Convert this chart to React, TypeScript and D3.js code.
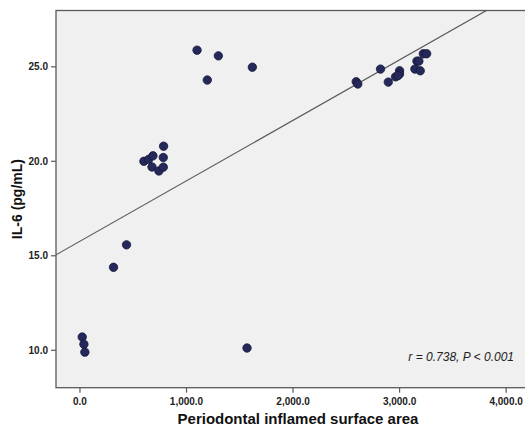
import React from "react";
import * as d3 from "d3";

const pisa = [21, 37, 46, 315, 437, 600, 644, 685, 676, 741, 782, 782, 785, 1099, 1299, 1195, 1618, 1568, 2593, 2608, 2821, 2894, 2962, 3000, 3000, 2984, 3144, 3194, 3163, 3181, 3223, 3254];
const il6 = [10.7, 10.32, 9.9, 14.39, 15.58, 20.0, 20.1, 20.29, 19.7, 19.49, 19.69, 20.2, 20.8, 25.88, 25.58, 24.3, 24.98, 10.12, 24.21, 24.09, 24.88, 24.19, 24.47, 24.79, 24.62, 24.53, 24.88, 24.79, 25.3, 25.3, 25.69, 25.69];
const xTicks = [0, 1000, 2000, 3000, 4000];
const yTicks = [10, 15, 20, 25];
const fitIntercept = 15.77;
const fitSlope = 0.0032;
const annotation = "r = 0.738, P < 0.001";
const xTitle = "Periodontal inflamed surface area";
const yTitle = "IL-6 (pg/mL)";

const W = 525, H = 430;
const L = 56, T = 10.5, R = 527, B = 387.7;

export default function App() {
  const x = d3.scaleLinear().domain([-225, 4196]).range([L, R]);
  const y = d3.scaleLinear().domain([8.02, 27.98]).range([B, T]);
  const fmt = d3.format(",.1f");
  const x0 = -225, x1 = 4196;
  const line = d3.line<number>().x((d) => x(d)).y((d) => y(fitIntercept + fitSlope * d));
  const font = "'Liberation Sans', Arial, Helvetica, sans-serif";
  return (
    <svg width={W} height={H} style={{ position: "absolute", left: 0, top: 0 }} fontFamily={font}>
      <rect x={0} y={0} width={W} height={H} fill="#ffffff" />
      <defs>
        <clipPath id="plot">
          <rect x={L} y={T} width={R - L} height={B - T} />
        </clipPath>
      </defs>
      <rect x={L} y={T} width={R - L} height={B - T} fill="#f0f0f0" stroke="#5a5a5a" strokeWidth={1.3} />
      <g clipPath="url(#plot)">
        <path d={line([x0, x1]) || ""} fill="none" stroke="#5a5a5a" strokeWidth={1.2} />
        {pisa.map((v, i) => (
          <circle key={i} cx={x(v)} cy={y(il6[i])} r={4.2} fill="#25285a" stroke="#161838" strokeWidth={0.8} />
        ))}
      </g>
      {yTicks.map((t) => (
        <g key={t} transform={`translate(0,${y(t)})`}>
          <line x1={L - 5} x2={L} stroke="#5a5a5a" strokeWidth={1.2} />
          <text x={L - 8} dy="0.35em" textAnchor="end" fontSize={10} fontWeight="bold" fill="#222">{fmt(t)}</text>
        </g>
      ))}
      {xTicks.map((t) => (
        <g key={t} transform={`translate(${x(t)},0)`}>
          <line y1={B} y2={B + 5} stroke="#5a5a5a" strokeWidth={1.2} />
          <text y={B + 17} textAnchor="middle" fontSize={10} fontWeight="bold" fill="#222">{fmt(t)}</text>
        </g>
      ))}
      <text x={298} y={424} textAnchor="middle" fontSize={15} fontWeight="bold" fill="#111">{xTitle}</text>
      <text transform={`translate(22,${(T + B) / 2}) rotate(-90)`} textAnchor="middle" fontSize={14} fontWeight="bold" fill="#111">{yTitle}</text>
      <text x={514} y={361} textAnchor="end" fontSize={12} fontStyle="italic" fill="#222">{annotation}</text>
    </svg>
  );
}
